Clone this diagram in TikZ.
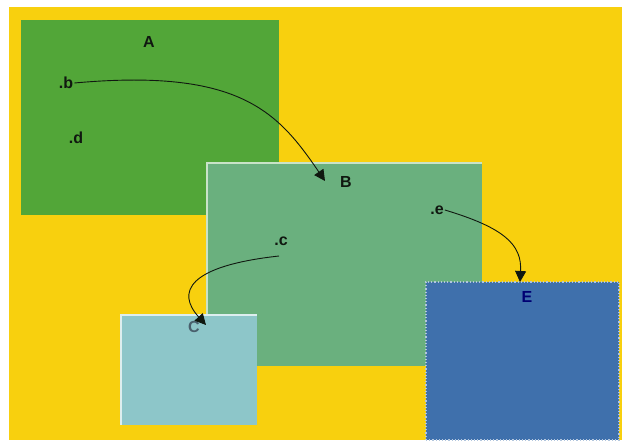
\documentclass[tikz,border=0pt]{standalone}
\usepackage{fontspec}
\setmainfont{Liberation Sans}
\usetikzlibrary{arrows.meta}
\definecolor{bgyellow}{HTML}{F8D00E}
\definecolor{agreen}{HTML}{52A638}
\definecolor{bgreen}{HTML}{6AB07E}
\definecolor{cblue}{HTML}{8DC6C9}
\definecolor{eblue}{HTML}{3F70AC}
\definecolor{edge}{HTML}{C9E3C8}
\definecolor{ink}{HTML}{101810}
\tikzset{
  box/.style={inner sep=0pt, outer sep=0pt, anchor=north west},
  lbl/.style={inner sep=1pt, font=\bfseries\fontsize{16}{18}\selectfont, text=ink},
  arr/.style={draw=ink, line width=0.9pt, -{Triangle[length=11pt,width=11pt]}}
}
\begin{document}
\begin{tikzpicture}[x=1pt,y=-1pt]
\useasboundingbox (0,0) rectangle (622,445);
\fill[white] (0,0) rectangle (622,445);
\fill[bgyellow] (9,7) rectangle (622,440);
% boxes
\node[box, fill=agreen, minimum width=258pt, minimum height=195pt] (A) at (21,20) {};
\node[box, fill=bgreen, minimum width=275pt, minimum height=203pt] (B) at (207,163) {};
\draw[edge, line width=2pt] (B.south west) -- (B.north west) -- (B.north east);
\node[box, fill=cblue, minimum width=136pt, minimum height=110pt] (C) at (121,315) {};
\draw[white!70!cblue, line width=2pt] (C.south west) -- (C.north west) -- (C.north east);
\node[box, fill=eblue, draw=white!60!eblue, dotted, line width=1.2pt, minimum width=193pt, minimum height=158pt] (E) at (426,282) {};
% labels
\node[lbl] (la) at (149,42) {A};
\node[lbl] (lb) at (66,83) {.b};
\node[lbl] (ld) at (76,138) {.d};
\node[lbl] (lB) at (346,182) {B};
\node[lbl] (le) at (437,210) {.e};
\node[lbl] (lc) at (281,241) {.c};
\node[lbl, text=cyan!35!black] (lC) at (194,327) {C};
\node[lbl, text=blue!45!black] (lE) at (527,297) {E};
% connector end points
\coordinate (sc) at (279,256);
\coordinate (tb) at (325,181);
\coordinate (tc) at (206,325);
\coordinate (te) at (520,282);
\draw[arr] (lb.east) .. controls (240,68) and (278,112) .. (tb);
\draw[arr] (sc) .. controls (188,266) and (176,292) .. (tc);
\draw[arr] (le.east) .. controls (505,228) and (522,245) .. (te);
\end{tikzpicture}
\end{document}
